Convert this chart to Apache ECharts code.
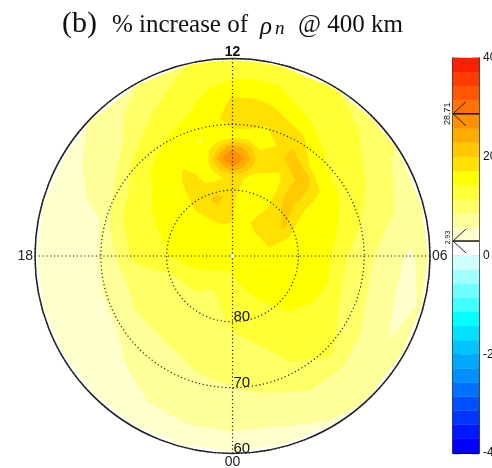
<!DOCTYPE html>
<html lang="en">

<head>
    <meta charset="UTF-8">
    <script src="https://cdn.jsdelivr.net/npm/echarts@6/dist/echarts.min.js"></script>
    <title>rho n increase</title>
    <style>
        html, body { margin: 0; padding: 0; background: #fff; }
        #chart { width: 492px; height: 468px; }
    </style>
</head>

<body>
    <div id="chart"></div>

    <script>
        // magnetic latitude of each ring, pole first. the map stops just short of the 60 rim
        const lats = [90, 87, 84, 81, 78, 76.5, 75, 73.5, 72, 69, 66, 63, 60.3];
        const mlts = [0, 1, 2, 3, 4, 5, 6, 7, 8, 9, 10, 11, 11.5, 12, 12.5, 13, 14, 15, 16, 17, 18, 19, 20, 21, 22, 23];

        // % increase, one row per entry of mlts, one value per ring
        const increase = [
            [15.5, 14.2, 13, 12.1, 11.2, 10.7, 10.2, 9.7, 9.2, 8.2, 7, 5.5, 4.3],
            [15.5, 14.7, 13.8, 12.9, 12, 11.5, 11, 10.4, 9.9, 8.8, 7.4, 5.6, 4.6],
            [15.5, 15, 14.7, 13.9, 13, 12.6, 12.3, 12, 11.7, 10.1, 8.3, 6.8, 5.2],
            [15.5, 15.4, 15.2, 14.8, 14.3, 13.9, 13.5, 13, 12.5, 11.6, 8.4, 7, 6],
            [15.5, 15.5, 15.5, 15.1, 14.7, 14.4, 14.1, 13, 11.8, 9.8, 7.4, 5.8, 6.2],
            [15.5, 15.7, 15.5, 15.2, 14.8, 14.6, 14.3, 12.2, 10.4, 8.7, 6.5, 4.8, 6],
            [15.5, 15.6, 15.6, 15.4, 15, 14.6, 14.2, 12.3, 10.8, 9, 6.6, 5.3, 6.8],
            [15.5, 15.5, 17.4, 16.3, 15.5, 15.2, 14.9, 14.3, 13.6, 10.7, 9.2, 7.8, 7.2],
            [15.5, 16, 17.6, 20.5, 17, 16, 15.3, 14.9, 14.6, 13, 11, 8.9, 8],
            [15.5, 16, 17.8, 18.5, 21.5, 22, 21.5, 20.2, 15.5, 13.4, 12.3, 11.5, 10],
            [15.5, 16, 17.3, 16.2, 15.6, 16, 17.5, 20.3, 20.8, 17.5, 13.9, 12.8, 11.8],
            [15.5, 15.6, 15.5, 14, 15.8, 17.8, 18.5, 17.3, 14, 18, 17, 14.2, 12.5],
            [15.5, 15.8, 16, 15.5, 17.5, 22.5, 25.5, 22, 16.5, 17.8, 17.2, 14.3, 12.6],
            [15.5, 16, 17.5, 18.5, 17.8, 25.7, 28.71, 25, 16.5, 18, 17.3, 14.2, 12.7],
            [15.5, 15.8, 17.8, 19.5, 17, 21, 25, 20, 15.8, 16.8, 15.8, 13.2, 12],
            [15.5, 15.5, 18, 21, 16.5, 16.2, 16.2, 15.5, 14, 15, 14, 12.5, 11.2],
            [15.5, 15.5, 17, 18.5, 18, 17.8, 17.2, 15.8, 15.5, 14, 11.9, 10, 8.3],
            [15.5, 15.5, 16, 16.3, 15.8, 15.4, 15, 14.6, 14.2, 11.8, 8.2, 7.2, 6],
            [15.5, 15.6, 16.2, 16, 15, 14.5, 13.9, 12.9, 11.8, 8.3, 6.6, 5.4, 4.5],
            [15.5, 15.5, 15.5, 15, 14, 13.3, 12.6, 11.8, 10.9, 5.6, 4.9, 4.3, 3.6],
            [15.5, 15.3, 15, 14.6, 13.3, 12.7, 12, 10.2, 8.3, 4.9, 4.5, 4, 3.3],
            [15.5, 15, 14.7, 11.8, 10.6, 10, 9.4, 8.6, 7.7, 5.3, 4.6, 4, 3.3],
            [15.5, 15, 13, 11, 10, 9.5, 9.1, 8.7, 8.2, 5.4, 4.7, 4.1, 3.4],
            [15.5, 14.3, 12.2, 10.8, 10, 9.5, 9.1, 8.5, 7.9, 6.6, 5.3, 4.3, 3.5],
            [15.5, 14, 11.3, 10.5, 9.9, 9.6, 9.2, 8.7, 8.1, 7.1, 6.2, 5.3, 4.2],
            [15.5, 14, 12, 10.9, 10.3, 10, 9.6, 9.2, 8.8, 7.6, 6.6, 5.5, 4.3]
        ];

        // colour of each contour band, from -40 up to 40
        const bandColors = [
            '#0000ff', '#0018ff', '#0034ff', '#0050ff', '#0070ff', '#0090ff', '#00a8ff',
            '#00c4ff', '#00e0ff', '#00ffff', '#40ffff', '#70ffff', '#a0ffff', '#d0ffff',
            '#ffffff', '#ffffcc', '#ffff99', '#ffff66', '#ffff33', '#ffff00', '#ffe000',
            '#ffc800', '#ffac00', '#ff9000', '#ff7400', '#ff5800', '#ff3c00', '#ff2000'
        ];
        const bandStep = 80 / bandColors.length;

        const mltLabels = { 0: '00', 6: '06', 12: '{b|12}', 18: '18' };
        const latLabels = { 80: '80', 70: '70', 60: '60' };
        const barLabels = { 40: '40', 20: '20', 0: '0', '-20': '-2', '-40': '-4' };
        const minMax = [28.71, 2.93];

        // keep the part of a polygon above (or below) a level, points are [mlt, lat, value]
        function clip(poly, level, above) {
            let out = [];
            for (let i = 0; i < poly.length; i++) {
                let a = poly[i];
                let b = poly[(i + 1) % poly.length];
                let aIn = above ? a[2] >= level : a[2] <= level;
                let bIn = above ? b[2] >= level : b[2] <= level;
                if (aIn) out.push(a);
                if (aIn !== bIn) {
                    let t = (level - a[2]) / (b[2] - a[2]);
                    out.push([a[0] + t * (b[0] - a[0]), a[1] + t * (b[1] - a[1]), level]);
                }
            }
            return out;
        }

        let cells = [];
        for (let m = 0; m < mlts.length; m++) {
            for (let j = 0; j < lats.length - 1; j++) {
                let next = (m + 1) % mlts.length;
                cells.push([lats[j], mlts[m], lats[j + 1], next ? mlts[next] : 24,
                    increase[m][j], increase[next][j], increase[next][j + 1], increase[m][j + 1]]);
            }
        }

        function renderCell(params, api) {
            let lat0 = api.value(0), m0 = api.value(1), lat1 = api.value(2), m1 = api.value(3);
            let quad = [[m0, lat0, api.value(4)], [m1, lat0, api.value(5)], [m1, lat1, api.value(6)], [m0, lat1, api.value(7)]];
            let children = [];
            for (let b = 0; b < bandColors.length; b++) {
                let low = -40 + b * bandStep;
                let poly = clip(clip(quad, low, true), low + bandStep, false);
                if (poly.length < 3) continue;
                children.push({
                    type: 'polygon',
                    shape: { points: poly.map(p => api.coord([p[1], p[0]])) },
                    style: { fill: bandColors[b], stroke: bandColors[b], lineWidth: 0.6 }
                });
            }
            return { type: 'group', children: children };
        }

        function renderBand(params, api) {
            let p0 = api.coord([0, api.value(0)]);
            let p1 = api.coord([1, api.value(1)]);
            return {
                type: 'rect',
                shape: { x: p0[0], y: p1[1], width: p1[0] - p0[0], height: p0[1] - p1[1] },
                style: { fill: bandColors[params.dataIndex], stroke: bandColors[params.dataIndex], lineWidth: 0.4 }
            };
        }

        // max and min markers on the colour bar
        function renderMark(params, api) {
            let left = api.coord([0, api.value(0)]);
            let right = api.coord([1, api.value(0)]);
            let lineStyle = { stroke: '#222', lineWidth: 1, fill: null };
            let isMax = params.dataIndex === 0;
            return {
                type: 'group',
                children: [
                    { type: 'line', shape: { x1: left[0], y1: left[1], x2: right[0], y2: right[1] }, style: { stroke: '#111', lineWidth: 1.5 } },
                    { type: 'line', shape: { x1: left[0], y1: left[1], x2: left[0] + 13, y2: left[1] - 12 }, style: lineStyle },
                    { type: 'line', shape: { x1: left[0], y1: left[1], x2: left[0] + 13, y2: left[1] + 12 }, style: lineStyle },
                    {
                        type: 'text',
                        x: left[0] - 5,
                        y: left[1] - (isMax ? 0 : 3.5),
                        rotation: Math.PI / 2,
                        style: {
                            text: String(api.value(0)),
                            fill: '#111',
                            font: isMax ? '9px "Liberation Sans"' : '7px "Liberation Sans"',
                            align: 'center',
                            verticalAlign: 'middle'
                        }
                    }
                ]
            };
        }

        const serif = '"Liberation Serif"';
        let titleStyle = { fontFamily: serif, fontSize: 25, fontWeight: 'normal', color: '#111' };
        let option = {
            backgroundColor: '#fff',
            animation: false,
            title: [
                { text: '(b)', left: 62, top: 9, padding: 0, textStyle: { ...titleStyle, fontSize: 30 } },
                { text: '% increase of', left: 112, top: 13, padding: 0, textStyle: titleStyle },
                { text: 'ρ', left: 260, top: 15, padding: 0, textStyle: { ...titleStyle, fontStyle: 'italic' } },
                { text: 'n', left: 275, top: 19, padding: 0, textStyle: { ...titleStyle, fontSize: 19, fontStyle: 'italic' } },
                { text: '@ 400 km', left: 298, top: 13, padding: 0, textStyle: titleStyle }
            ],
            polar: { center: [232.5, 256], radius: 197.5 },
            angleAxis: {
                type: 'value',
                min: 0,
                max: 24,
                interval: 6,
                startAngle: 270,
                clockwise: false,
                z: 5,
                axisLine: { lineStyle: { color: '#222', width: 1.5 } },
                axisTick: { show: false },
                splitLine: { lineStyle: { color: '#222', width: 1.2, type: [1.2, 2.6] } },
                axisLabel: {
                    margin: 2,
                    fontFamily: '"Liberation Sans"',
                    fontSize: 14,
                    color: '#222',
                    rich: { b: { fontFamily: '"Liberation Sans"', fontSize: 14, lineHeight: 8, fontWeight: 'bold', color: '#111' } },
                    formatter: v => mltLabels[v] || ''
                }
            },
            radiusAxis: {
                type: 'value',
                min: 60,
                max: 90,
                interval: 10,
                inverse: true,
                z: 5,
                axisLine: { show: false },
                axisTick: { show: false },
                splitLine: { lineStyle: { color: '#222', width: 1.2, type: [1.2, 2.6] } },
                axisLabel: {
                    margin: 1,
                    verticalAlign: 'bottom',
                    lineHeight: 9,
                    fontFamily: '"Liberation Sans"',
                    fontSize: 15,
                    color: '#111',
                    formatter: v => latLabels[v] || ''
                }
            },
            grid: { left: 453, top: 58, width: 26, height: 395, outerBoundsMode: 'none' },
            xAxis: {
                type: 'value',
                min: 0,
                max: 1,
                axisLine: { show: true, onZero: false, lineStyle: { color: '#111', width: 1 } },
                axisTick: { show: false },
                axisLabel: { show: false },
                splitLine: { show: false }
            },
            yAxis: [0, 1].map(i => ({
                type: 'value',
                min: -40,
                max: 40,
                interval: 20,
                position: i ? 'right' : 'left',
                minorTick: { show: true, splitNumber: 4, length: 4, lineStyle: { color: '#111', width: 1.4 } },
                axisLine: { show: true, lineStyle: { color: '#111', width: 1.6 } },
                axisTick: { inside: true, length: 7, lineStyle: { color: '#111', width: 1.4 } },
                splitLine: { show: false },
                axisLabel: {
                    show: i === 1,
                    margin: 4,
                    fontFamily: '"Liberation Sans"',
                    fontSize: 12,
                    color: '#111',
                    formatter: v => barLabels[v]
                }
            })),
            series: [
                {
                    type: 'custom',
                    coordinateSystem: 'polar',
                    renderItem: renderCell,
                    silent: true,
                    clip: false,
                    data: cells
                },
                {
                    type: 'scatter',
                    coordinateSystem: 'polar',
                    symbolSize: 4,
                    silent: true,
                    z: 6,
                    itemStyle: { color: '#fff', borderColor: '#999', borderWidth: 0.5 },
                    data: [[90, 0]]
                },
                {
                    type: 'custom',
                    coordinateSystem: 'cartesian2d',
                    renderItem: renderBand,
                    silent: true,
                    z: 1,
                    data: bandColors.map((c, i) => [-40 + i * bandStep, -40 + (i + 1) * bandStep])
                },
                {
                    type: 'custom',
                    coordinateSystem: 'cartesian2d',
                    renderItem: renderMark,
                    silent: true,
                    z: 6,
                    data: minMax.map(v => [v])
                }
            ]
        };

        var myChart = echarts.init(document.getElementById('chart'), null, { renderer: 'canvas' });
        myChart.setOption(option);
    </script>
</body>

</html>
